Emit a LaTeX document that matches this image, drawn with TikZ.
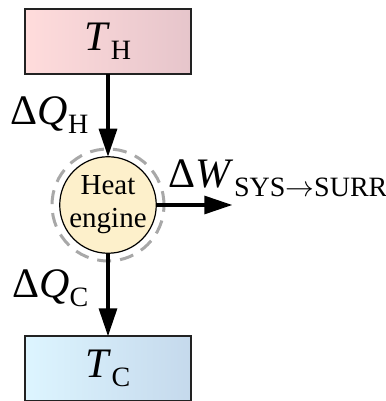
\documentclass[tikz,border=0pt]{standalone}
\usepackage{fontspec}
\setmainfont{Liberation Serif}
\usepackage{xcolor}
\usetikzlibrary{arrows.meta, positioning}
\definecolor{hotleft}{HTML}{FFDCDC}
\definecolor{hotright}{HTML}{E6C5CB}
\definecolor{coldleft}{HTML}{DDF5FF}
\definecolor{coldright}{HTML}{C5D9EC}
\definecolor{enginefill}{HTML}{FDF0CB}
\definecolor{ringgray}{HTML}{A8A8A8}
\definecolor{edge}{HTML}{222222}
\newcommand{\lowsub}[1]{\raisebox{-4.5pt}{\fontsize{14}{16}\selectfont #1}}

\begin{document}
\begin{tikzpicture}[font=\fontsize{21}{25}\selectfont, >={Triangle[length=14pt, width=9pt]},
    reservoir/.style={draw=edge, line width=0.8pt, minimum width=83pt, minimum height=32.5pt,
                      inner sep=0pt, outer sep=0pt},
    flow/.style={->, line width=1.6pt},
    lbl/.style={inner sep=0pt}]
  \useasboundingbox (-54pt,-98pt) rectangle (138.5pt,102.5pt);

  % The engine with its dashed system boundary.
  \node[circle, draw=ringgray, line width=1.5pt, dash pattern=on 7pt off 4.5pt,
        minimum size=56pt, inner sep=0pt, outer sep=0pt] (ring) at (0,0) {};
  \node[circle, draw, line width=0.6pt, fill=enginefill, minimum size=48pt, inner sep=0pt,
        outer sep=0pt, align=center, font=\fontsize{14.5}{16.5}\selectfont] (engine) at (0,0) {Heat\\engine};

  % The two reservoirs.
  \node[reservoir, left color=hotleft, right color=hotright, above=41.5pt of engine] (hot) {\textit{T}\lowsub{H}};
  \node[reservoir, left color=coldleft, right color=coldright, below=41.5pt of engine] (cold) {\textit{T}\lowsub{C}};
  \coordinate[right=38pt of engine] (work);

  % Heat in, heat out, work done.
  \draw[flow] (hot) -- node[lbl, pos=0.61, anchor=base east, xshift=-9pt] {Δ\textit{Q}\lowsub{H}} (engine);
  \draw[flow] (engine) -- node[lbl, pos=0.53, anchor=base east, xshift=-9pt] {Δ\textit{Q}\lowsub{C}} (cold);
  \draw[flow] (engine) -- node[lbl, pos=0.145, anchor=base west, yshift=8.5pt]
    {Δ\textit{W}\lowsub{SYS\ensuremath{\rightarrow}SURR}} (work);
\end{tikzpicture}
\end{document}
